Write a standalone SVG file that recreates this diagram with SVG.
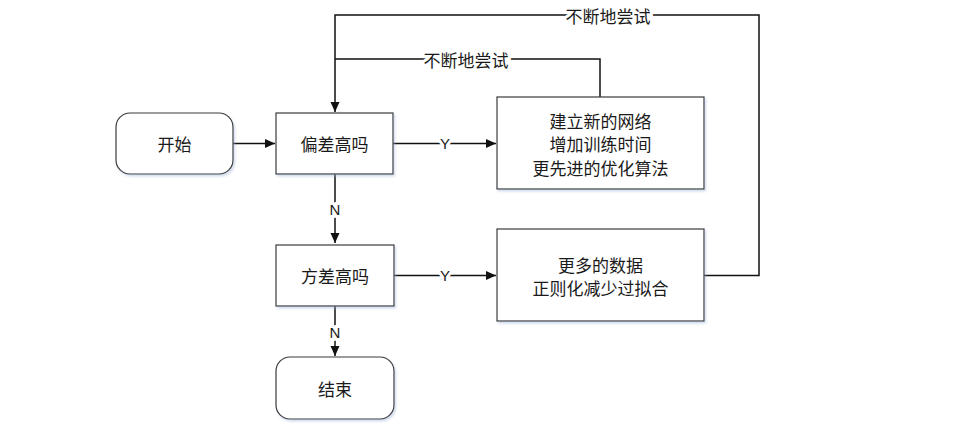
<svg xmlns="http://www.w3.org/2000/svg" width="980" height="424" viewBox="0 0 980 424">
<style>
.box{fill:#fff;stroke:#3a3a3a;stroke-width:1.2;filter:url(#sh)}
.t{font-family:"Noto Sans CJK SC","Noto Sans",sans-serif;font-size:17px;fill:#1a1a1a;text-anchor:middle;dominant-baseline:central}
.lbl{font-family:"Noto Sans CJK SC","Noto Sans",sans-serif;font-size:17px;fill:#1a1a1a;text-anchor:middle;dominant-baseline:central;stroke:#fff;stroke-width:6;paint-order:stroke}
.yn{font-family:"Liberation Sans",Arial,sans-serif;font-size:15px;fill:#1a1a1a;text-anchor:middle;dominant-baseline:central;stroke:#fff;stroke-width:6;paint-order:stroke}
.ln{fill:none;stroke:#111;stroke-width:1.5}
</style>
<defs>
<filter id="sh" x="-10%" y="-10%" width="130%" height="130%">
<feDropShadow dx="1.5" dy="2" stdDeviation="1.2" flood-color="#9bb3d6" flood-opacity="0.45"/>
</filter>
<marker id="ah" viewBox="0 0 10 10" refX="10" refY="5" markerWidth="10" markerHeight="10" markerUnits="userSpaceOnUse" orient="auto">
<path d="M0,0.5 L10,5 L0,9.5 Z" fill="#111"/>
</marker>
</defs>
<rect width="980" height="424" fill="#fff"/>
<g id="connectors">
<path class="ln" d="M233,143.5 H275" marker-end="url(#ah)"/>
<path class="ln" d="M393,143.5 H496" marker-end="url(#ah)"/>
<text class="yn" x="445" y="143.5">Y</text>
<path class="ln" d="M335,174 V243" marker-end="url(#ah)"/>
<text class="yn" x="335" y="209">N</text>
<path class="ln" d="M394,275.5 H496" marker-end="url(#ah)"/>
<text class="yn" x="445" y="275.5">Y</text>
<path class="ln" d="M335,306 V356" marker-end="url(#ah)"/>
<text class="yn" x="335" y="332">N</text>
<path class="ln" d="M600,97 V59 H335"/>
<text class="lbl" x="466" y="59">不断地尝试</text>
<path class="ln" d="M704,275.5 H759 V15 H335 V112" marker-end="url(#ah)"/>
<text class="lbl" x="608" y="15">不断地尝试</text>
</g>
<g id="start">
<rect class="box" x="116" y="113" width="117" height="61" rx="14"/>
<text class="t" x="174.5" y="143.5">开始</text>
</g>
<g id="bias">
<rect class="box" x="276" y="113" width="117" height="61"/>
<text class="t" x="334.5" y="143.5">偏差高吗</text>
</g>
<g id="fix-bias">
<rect class="box" x="497" y="97" width="207" height="92"/>
<text class="t" x="600.5" y="120">建立新的网络</text>
<text class="t" x="600.5" y="143.5">增加训练时间</text>
<text class="t" x="600.5" y="167">更先进的优化算法</text>
</g>
<g id="variance">
<rect class="box" x="276" y="245" width="118" height="61"/>
<text class="t" x="335" y="275.5">方差高吗</text>
</g>
<g id="fix-variance">
<rect class="box" x="497" y="229" width="207" height="92"/>
<text class="t" x="600.5" y="264">更多的数据</text>
<text class="t" x="600.5" y="287">正则化减少过拟合</text>
</g>
<g id="end">
<rect class="box" x="276" y="357" width="118" height="62" rx="14"/>
<text class="t" x="335" y="388">结束</text>
</g>
</svg>
